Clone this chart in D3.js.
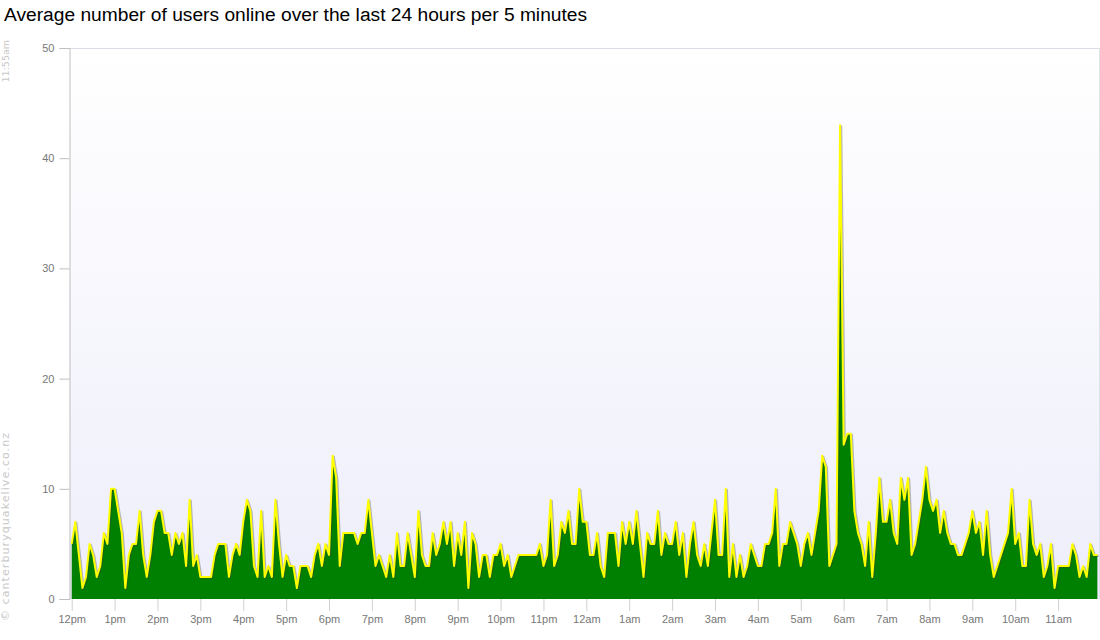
<!DOCTYPE html>
<html>
<head>
<meta charset="utf-8">
<script src="https://cdn.jsdelivr.net/npm/d3@7"></script>
<style>
  body { margin: 0; background: #ffffff; }
  svg { display: block; font-family: "Liberation Sans", Arial, sans-serif; }
</style>
</head>
<body>
<svg id="chart" width="1100" height="640"></svg>
<script>
const chartTitle = "Average number of users online over the last 24 hours per 5 minutes";
const lastUpdated = "11:55am";
const credit = "\u00A9 canterburyquakelive.co.nz";
const hourLabels = ["12pm","1pm","2pm","3pm","4pm","5pm","6pm","7pm","8pm","9pm","10pm","11pm",
                    "12am","1am","2am","3am","4am","5am","6am","7am","8am","9am","10am","11am"];
const yTickValues = [0, 10, 20, 30, 40, 50];
const minutesPerPoint = 5;
// users online, one value per 5 minutes from 12:00pm to 11:55am
const usersOnline = [
  5,7,4,1,2,5,4,2,3,6,5,10,10,8,6,1,4,5,5,8,4,2,4,7,8,8,6,6,
  4,6,5,6,3,9,3,4,2,2,2,2,4,5,5,5,2,4,5,4,7,9,8,3,2,8,2,3,2,
  9,5,2,4,3,3,1,3,3,3,2,4,5,3,5,4,13,11,3,6,6,6,6,5,6,6,9,6,3,
  4,3,2,4,2,6,3,3,6,4,2,8,4,3,3,6,4,5,7,5,7,3,6,4,7,1,6,5,2,4,
  4,2,4,4,5,3,4,2,3,4,4,4,4,4,4,5,3,4,9,3,4,7,6,8,5,5,10,7,7,
  4,4,6,3,2,6,6,6,3,7,5,7,5,8,5,2,6,5,5,8,4,6,5,5,7,4,6,2,5,7,4,
  3,5,3,6,9,4,4,10,2,5,2,4,2,3,5,4,3,3,5,5,6,10,3,5,5,7,6,5,3,5,
  6,4,6,8,13,12,3,4,5,43,14,15,15,8,6,5,3,7,2,6,11,7,7,9,6,5,11,9,11,
  4,5,7,9,12,9,8,9,6,8,6,5,5,4,4,5,6,8,6,7,4,8,4,2,3,
  4,5,6,10,5,6,3,3,9,5,4,5,2,3,5,1,3,3,3,3,5,4,2,3,2,5,4,4
];

const svg = d3.select("#chart");
const plotLeft = 69.5, plotRight = 1099.5, plotTop = 48, plotBottom = 599;
const firstX = 71.7, lastX = 1097.4;

const data = usersOnline.map((v, i) => ({ m: i * minutesPerPoint, v }));
const x = d3.scaleLinear()
  .domain([0, (usersOnline.length - 1) * minutesPerPoint])
  .range([firstX, lastX]);
const y = d3.scaleLinear().domain([0, 50]).range([plotBottom, plotTop]);

// background gradient
const defs = svg.append("defs");
const grad = defs.append("linearGradient").attr("id", "bg")
  .attr("x1", 0).attr("y1", 0).attr("x2", 0).attr("y2", 1);
grad.append("stop").attr("offset", "0%").attr("stop-color", "#ffffff");
grad.append("stop").attr("offset", "100%").attr("stop-color", "#eeeefb");

svg.append("rect")
  .attr("x", plotLeft).attr("y", plotTop)
  .attr("width", plotRight - plotLeft).attr("height", plotBottom - plotTop)
  .attr("fill", "url(#bg)");

svg.append("line")
  .attr("x1", plotLeft).attr("x2", plotRight)
  .attr("y1", y(50) + 0.5).attr("y2", y(50) + 0.5)
  .attr("stroke", "#dcdce6");
svg.append("line")
  .attr("x1", plotRight).attr("x2", plotRight)
  .attr("y1", plotTop).attr("y2", plotBottom)
  .attr("stroke", "#e2e2ea");

// title
svg.append("text")
  .attr("x", 4).attr("y", 21)
  .attr("font-size", 19.2).attr("fill", "#000")
  .text(chartTitle);

// side texts
svg.append("text")
  .attr("transform", "translate(9,40) rotate(-90)")
  .attr("text-anchor", "end")
  .attr("font-family", "'DejaVu Sans', sans-serif")
  .attr("font-size", 9.5).attr("fill", "#c8c8c8")
  .text(lastUpdated);
svg.append("text")
  .attr("transform", "translate(9,621) rotate(-90)")
  .attr("text-anchor", "start")
  .attr("font-family", "'DejaVu Sans', sans-serif")
  .attr("font-size", 11).attr("fill", "#c8c8c8")
  .attr("textLength", 188).attr("lengthAdjust", "spacing")
  .text(credit);

// area + line
const area = d3.area().x(d => x(d.m)).y0(y(0)).y1(d => y(d.v));
const line = d3.line().x(d => x(d.m)).y(d => y(d.v));

svg.append("path").datum(data)
  .attr("d", area)
  .attr("fill", "#008000");

svg.append("path").datum(data)
  .attr("d", line)
  .attr("transform", "translate(1.2,1)")
  .attr("fill", "none")
  .attr("stroke", "rgba(60,60,60,0.35)")
  .attr("stroke-width", 2)
  .attr("stroke-linejoin", "round");

svg.append("path").datum(data)
  .attr("d", line)
  .attr("fill", "none")
  .attr("stroke", "#ffff00")
  .attr("stroke-width", 2)
  .attr("stroke-linejoin", "round");

// y axis
const yAxis = d3.axisLeft(y)
  .tickValues(yTickValues)
  .tickSize(10)
  .tickPadding(5)
  .tickFormat(d3.format("d"));
const gy = svg.append("g")
  .attr("transform", `translate(${plotLeft},0)`)
  .call(yAxis);
gy.select(".domain").attr("stroke", "#c0c0c0");
gy.selectAll(".tick line").attr("stroke", "#c0c0c0");
gy.selectAll(".tick text")
  .attr("font-family", "'Liberation Sans', Arial, sans-serif")
  .attr("font-size", 11).attr("fill", "#777");

// x axis
const hourTicks = hourLabels.map((_, i) => i * 60);
const xAxis = d3.axisBottom(x)
  .tickValues(hourTicks)
  .tickSize(12)
  .tickPadding(4)
  .tickFormat((d, i) => hourLabels[i]);
const gx = svg.append("g")
  .attr("transform", `translate(0,${plotBottom})`)
  .call(xAxis);
gx.select(".domain").remove();
gx.selectAll(".tick line").attr("stroke", "#d0d0d0");
gx.selectAll(".tick text")
  .attr("font-family", "'Liberation Sans', Arial, sans-serif")
  .attr("font-size", 11).attr("fill", "#777");
</script>
</body>
</html>
